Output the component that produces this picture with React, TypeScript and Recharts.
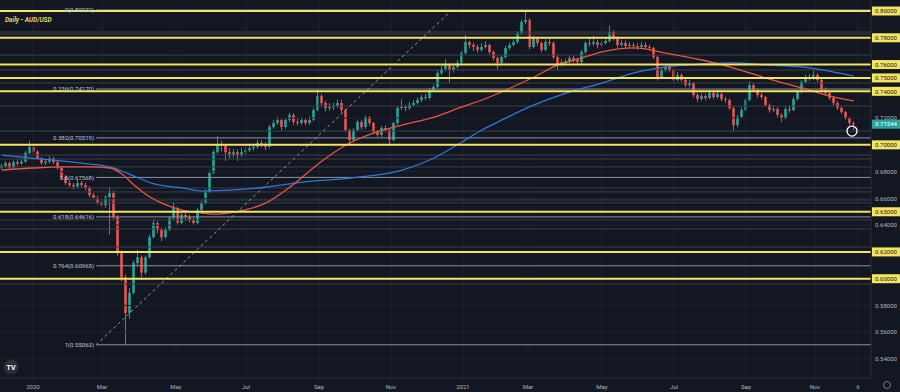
import React from "react";
import {
  Bar,
  ComposedChart,
  Line,
  ReferenceDot,
  ReferenceLine,
  XAxis,
  YAxis,
} from "recharts";

// 1 candle = ~2.5 trading days, x = candle index (0 = mid Dec 2019)
// prices in pips (x 10000)
const CLOSE = [
  6842, 6864, 6830, 6872, 6860, 6875, 6940, 6985, 6950, 6900,
  6865, 6875, 6900, 6870, 6830, 6760, 6715, 6700, 6690, 6715,
  6700, 6680, 6625, 6605, 6570, 6550, 6610, 6640, 6460, 6190,
  6010, 5744, 5895, 6117, 6160, 6045, 6160, 6310, 6415, 6365,
  6310, 6365, 6453, 6528, 6416, 6476, 6461, 6440, 6416, 6513,
  6566, 6648, 6790, 6947, 7000, 6995, 6945, 6925, 6945, 6925,
  6945, 6960, 6975, 6985, 7015, 7000, 6985, 7133, 7163, 7186,
  7133, 7186, 7223, 7171, 7163, 7186, 7163, 7186, 7260, 7365,
  7313, 7275, 7283, 7290, 7313, 7260, 7111, 7036, 7111, 7171,
  7133, 7208, 7163, 7096, 7074, 7126, 7111, 7036, 7163, 7275,
  7283, 7275, 7298, 7313, 7335, 7357, 7350, 7410, 7432, 7537,
  7567, 7597, 7559, 7582, 7612, 7686, 7768, 7746, 7731, 7709,
  7731, 7746, 7694, 7649, 7612, 7656, 7724, 7746, 7768, 7836,
  7918, 7933, 7731, 7798, 7761, 7709, 7768, 7761, 7656, 7597,
  7619, 7625, 7649, 7634, 7619, 7694, 7761, 7755, 7768, 7746,
  7761, 7776, 7843, 7798, 7746, 7761, 7738, 7746, 7738, 7731,
  7746, 7731, 7724, 7656, 7507, 7559, 7582, 7559, 7485, 7522,
  7485, 7447, 7462, 7372, 7342, 7365, 7350, 7387, 7357, 7380,
  7342, 7335, 7275, 7148, 7208, 7260, 7335, 7447, 7410, 7372,
  7357, 7298, 7260, 7268, 7223, 7200, 7268, 7260, 7342, 7395,
  7470, 7507, 7492, 7522, 7485, 7410, 7387, 7350, 7313, 7275,
  7245, 7200, 7163, 7154,
];
const HIGH = [
  6860, 6880, 6875, 6885, 6890, 6895, 6955, 7030, 6995, 6960,
  6910, 6895, 6920, 6910, 6880, 6840, 6775, 6730, 6715, 6740,
  6735, 6720, 6690, 6640, 6620, 6585, 6625, 6685, 6660, 6475,
  6210, 6030, 5930, 6135, 6215, 6175, 6175, 6330, 6445, 6430,
  6380, 6385, 6470, 6570, 6535, 6490, 6500, 6480, 6460, 6530,
  6585, 6670, 6810, 6960, 7064, 7030, 7000, 6975, 6970, 6965,
  6980, 6990, 7000, 7010, 7040, 7035, 7020, 7150, 7185, 7210,
  7195, 7200, 7240, 7235, 7195, 7205, 7200, 7215, 7275, 7413,
  7380, 7330, 7310, 7315, 7340, 7335, 7270, 7120, 7125, 7190,
  7185, 7220, 7215, 7170, 7110, 7140, 7145, 7120, 7175, 7290,
  7340, 7300, 7320, 7335, 7355, 7375, 7380, 7425, 7450, 7555,
  7590, 7640, 7610, 7600, 7635, 7700, 7820, 7780, 7765, 7750,
  7760, 7775, 7755, 7705, 7660, 7670, 7740, 7765, 7790, 7850,
  7935, 8007, 7945, 7815, 7810, 7775, 7790, 7795, 7775, 7670,
  7640, 7645, 7665, 7670, 7650, 7710, 7775, 7800, 7815, 7785,
  7780, 7800, 7891, 7855, 7810, 7785, 7780, 7770, 7765, 7760,
  7770, 7765, 7750, 7735, 7665, 7575, 7600, 7595, 7570, 7545,
  7535, 7500, 7485, 7470, 7385, 7385, 7380, 7405, 7400, 7410,
  7390, 7360, 7345, 7285, 7225, 7280, 7350, 7478, 7460, 7420,
  7390, 7365, 7310, 7295, 7280, 7235, 7285, 7295, 7360, 7410,
  7485, 7525, 7530, 7556, 7535, 7495, 7430, 7400, 7365, 7325,
  7290, 7255, 7210, 7175,
];
const LOW = [
  6815, 6830, 6815, 6822, 6845, 6850, 6865, 6930, 6935, 6885,
  6850, 6850, 6860, 6855, 6815, 6745, 6700, 6685, 6670, 6680,
  6685, 6660, 6610, 6590, 6555, 6535, 6530, 6330, 6440, 6170,
  5980, 5506, 5700, 5880, 6090, 6010, 6030, 6150, 6300, 6340,
  6280, 6300, 6355, 6440, 6400, 6405, 6430, 6420, 6400, 6405,
  6500, 6555, 6640, 6780, 6935, 6950, 6880, 6900, 6905, 6880,
  6910, 6930, 6945, 6955, 6970, 6980, 6960, 6975, 7120, 7150,
  7110, 7120, 7170, 7150, 7145, 7150, 7145, 7150, 7175, 7250,
  7290, 7250, 7255, 7260, 7275, 7240, 7095, 7006, 7020, 7100,
  7115, 7120, 7145, 7080, 7060, 7060, 7095, 6991, 7025, 7150,
  7260, 7250, 7260, 7285, 7300, 7320, 7335, 7340, 7395, 7425,
  7520, 7550, 7465, 7540, 7570, 7600, 7675, 7720, 7700, 7690,
  7695, 7720, 7680, 7630, 7565, 7600, 7645, 7710, 7735, 7755,
  7820, 7900, 7715, 7720, 7740, 7690, 7700, 7740, 7640, 7562,
  7585, 7600, 7610, 7615, 7600, 7605, 7680, 7735, 7740, 7720,
  7730, 7750, 7765, 7780, 7725, 7735, 7720, 7720, 7715, 7710,
  7715, 7715, 7705, 7640, 7480, 7495, 7545, 7540, 7470, 7475,
  7470, 7430, 7430, 7355, 7320, 7330, 7330, 7340, 7340, 7345,
  7325, 7315, 7260, 7106, 7130, 7195, 7250, 7325, 7395, 7355,
  7340, 7285, 7240, 7245, 7205, 7170, 7190, 7240, 7250, 7330,
  7385, 7460, 7475, 7485, 7470, 7390, 7370, 7335, 7295, 7260,
  7230, 7185, 7140, 7110,
];
const FIRST_OPEN = 6830;

// moving averages, read at a handful of candle indices
const RED_MA_K = [0, 8, 15, 22, 27, 30, 33, 37, 41, 45, 50, 53, 58, 66, 72, 80, 86, 93, 100, 108, 115, 120, 126, 133, 139, 145, 150, 158, 166, 175, 183, 191, 200, 208, 213];
const RED_MA = [6812, 6827, 6835, 6835, 6827, 6782, 6700, 6610, 6551, 6513, 6491, 6483, 6498, 6566, 6685, 6880, 6999, 7089, 7148, 7208, 7283, 7335, 7410, 7507, 7597, 7649, 7694, 7724, 7686, 7634, 7574, 7499, 7425, 7357, 7328];
const BLUE_MA_K = [0, 10, 20, 28, 33, 38, 45, 50, 58, 66, 75, 87, 100, 108, 115, 120, 125, 133, 141, 150, 158, 166, 175, 183, 191, 200, 208, 213];
const BLUE_MA = [6924, 6894, 6864, 6827, 6767, 6708, 6678, 6655, 6663, 6685, 6722, 6752, 6812, 6902, 7021, 7111, 7186, 7298, 7387, 7462, 7537, 7582, 7604, 7612, 7597, 7582, 7544, 7514];

const MONTH_TICKS = [7.75, 25, 43.5, 61, 79.25, 97.25, 115.25, 131.5, 150, 168, 186, 203.25, 214];
const MONTH_LABELS = ["2020", "Mar", "May", "Jul", "Sep", "Nov", "2021", "Mar", "May", "Jul", "Sep", "Nov", "6"];

const GRID_PRICES = [0.54, 0.56, 0.58, 0.6, 0.62, 0.64, 0.66, 0.68, 0.7, 0.72, 0.74, 0.76, 0.78, 0.8];
const KEY_LEVELS = [0.8, 0.78, 0.76, 0.75, 0.74, 0.7, 0.65, 0.62, 0.6];
const LAST_PRICE = 0.71544;

const FIB_RATIOS = ["0", "0.236", "0.382", "0.5", "0.618", "0.764", "1"];
const FIB_PRICES = [0.80072, 0.7417, 0.70519, 0.67568, 0.64616, 0.60965, 0.55063];
const FIB_START = 23.5;
const FIB_TREND = [
  { k: 23.5, p: 0.55063 },
  { k: 112.5, p: 0.80072 },
];

const SR_LINES = [0.7843, 0.7828, 0.7671, 0.7559, 0.7462, 0.729, 0.7103, 0.6924, 0.6894, 0.6835, 0.6678, 0.6648, 0.6588, 0.6566, 0.6439, 0.6371, 0.6237, 0.596];

const X_DOMAIN = [-0.5, 217.25];
const Y_DOMAIN = [0.52581, 0.80822];

const BG = "#131722";
const UP = "#26a69a";
const DOWN = "#ef5350";
const YELLOW = "#f3e462";
const AXIS_TEXT = "#b2b5be";
const FONT = "Roboto, 'DejaVu Sans', sans-serif";

const candles = CLOSE.map((c, i) => ({
  k: i,
  open: (i === 0 ? FIRST_OPEN : CLOSE[i - 1]) / 10000,
  close: c / 10000,
  high: HIGH[i] / 10000,
  low: LOW[i] / 10000,
}));
const redMa = RED_MA_K.map((k, i) => ({ k, v: RED_MA[i] / 10000 }));
const blueMa = BLUE_MA_K.map((k, i) => ({ k, v: BLUE_MA[i] / 10000 }));
const yTicks = [...GRID_PRICES, ...KEY_LEVELS.filter((v) => !GRID_PRICES.includes(v)), LAST_PRICE];

function Candle(props: any) {
  const { x, y, width, height, payload } = props;
  if (!payload) return null;
  const top = Math.min(y, y + height);
  const bot = Math.max(y, y + height);
  const span = payload.high - payload.low;
  const ratio = span > 0 ? (bot - top) / span : 0;
  const yOf = (v: number) => top + (payload.high - v) * ratio;
  const up = payload.close >= payload.open;
  const color = up ? UP : DOWN;
  const cx = x + width / 2;
  const bt = yOf(Math.max(payload.open, payload.close));
  const bb = yOf(Math.min(payload.open, payload.close));
  const bw = 2.6;
  return (
    <g>
      <line x1={cx} x2={cx} y1={top} y2={bot} stroke={color} strokeWidth={0.9} />
      <rect x={cx - bw / 2} y={bt} width={bw} height={Math.max(bb - bt, 0.8)} fill={color} />
    </g>
  );
}

function XTick(props: any) {
  const { x, y, payload } = props;
  const idx = MONTH_TICKS.indexOf(payload.value);
  return (
    <text x={x} y={y + 3} textAnchor="middle" fontSize={6} fill={AXIS_TEXT} fontFamily={FONT}>
      {MONTH_LABELS[idx] ?? ""}
    </text>
  );
}

function YTick(props: any) {
  const { y, payload } = props;
  const v = payload.value as number;
  const label = v.toFixed(5);
  const isKey = KEY_LEVELS.includes(v);
  const isLast = v === LAST_PRICE;
  if (isKey || isLast) {
    return (
      <g>
        <rect x={872} y={y - 4.5} width={28} height={9} fill={isLast ? UP : YELLOW} />
        <text x={886} y={y + 2.2} textAnchor="middle" fontSize={6} fill={isLast ? "#ffffff" : BG} fontFamily={FONT}>
          {label}
        </text>
      </g>
    );
  }
  return (
    <text x={886} y={y + 2.2} textAnchor="middle" fontSize={6} fill={AXIS_TEXT} fontFamily={FONT}>
      {label}
    </text>
  );
}

export default function App() {
  return (
    <div style={{ position: "fixed", left: 0, top: 0, width: 900, height: 392, background: BG }}>
      <ComposedChart
        width={900}
        height={392}
        data={candles}
        margin={{ top: 0, right: 0, bottom: 0, left: 0 }}
      >
        <XAxis
          type="number"
          dataKey="k"
          domain={X_DOMAIN}
          allowDataOverflow
          ticks={MONTH_TICKS}
          interval={0}
          tick={<XTick />}
          tickLine={false}
          axisLine={{ stroke: "#2a2e39" }}
          height={14}
        />
        <YAxis
          orientation="right"
          type="number"
          domain={Y_DOMAIN}
          allowDataOverflow
          ticks={yTicks}
          interval={0}
          tick={<YTick />}
          tickLine={false}
          axisLine={{ stroke: "#2a2e39" }}
          width={29}
        />
        {MONTH_TICKS.map((t) => (
          <ReferenceLine key={`vg${t}`} x={t} stroke="#1f2330" strokeWidth={1} />
        ))}
        {GRID_PRICES.map((p) => (
          <ReferenceLine key={`hg${p}`} y={p} stroke="#1f2330" strokeWidth={1} />
        ))}
        {SR_LINES.map((p) => (
          <ReferenceLine key={`sr${p}`} y={p} stroke="#3d414d" strokeWidth={1} />
        ))}
        {FIB_PRICES.map((p, i) => (
          <ReferenceLine
            key={`fib${p}`}
            segment={[
              { x: FIB_START, y: p },
              { x: X_DOMAIN[1], y: p },
            ]}
            stroke="#8f929b"
            strokeWidth={1}
            label={{
              value: `${FIB_RATIOS[i]}(${p.toFixed(5)})`,
              position: "left",
              offset: 2,
              fill: "#c3c6ce",
              fontSize: 6,
              fontFamily: FONT,
            }}
          />
        ))}
        <ReferenceLine
          segment={FIB_TREND.map((d) => ({ x: d.k, y: d.p }))}
          stroke="#9598a1"
          strokeWidth={1}
          strokeDasharray="3 3"
        />
        <Line
          data={blueMa}
          dataKey="v"
          type="monotone"
          stroke="#2f78d6"
          strokeWidth={1.3}
          dot={false}
          isAnimationActive={false}
        />
        <Line
          data={redMa}
          dataKey="v"
          type="monotone"
          stroke="#e8563f"
          strokeWidth={1.3}
          dot={false}
          isAnimationActive={false}
        />
        <Bar
          dataKey={(d: any) => [d.low, d.high]}
          barSize={3}
          shape={<Candle />}
          isAnimationActive={false}
        />
        {KEY_LEVELS.map((p) => (
          <ReferenceLine key={`key${p}`} y={p} stroke={YELLOW} strokeWidth={2} />
        ))}
        <ReferenceDot x={212.5} y={0.7103} r={5} fill="none" stroke="#ffffff" strokeWidth={1.3} />
      </ComposedChart>
      <div
        style={{
          position: "absolute",
          left: 5,
          top: 16,
          fontFamily: FONT,
          fontSize: 6.5,
          fontWeight: 700,
          fontStyle: "italic",
          color: "#e0d66a",
        }}
      >
        Daily - AUD/USD
      </div>
      <svg style={{ position: "absolute", left: 0, top: 0 }} width={900} height={392}>
        <circle cx={11} cy={367} r={7.5} fill="#2a2e39" />
        <text x={11} y={369.5} textAnchor="middle" fontSize={7} fontWeight={700} fill="#ffffff" fontFamily={FONT}>
          TV
        </text>
        <circle cx={887} cy={385} r={3.5} fill="none" stroke="#787b86" strokeWidth={1} />
      </svg>
    </div>
  );
}
